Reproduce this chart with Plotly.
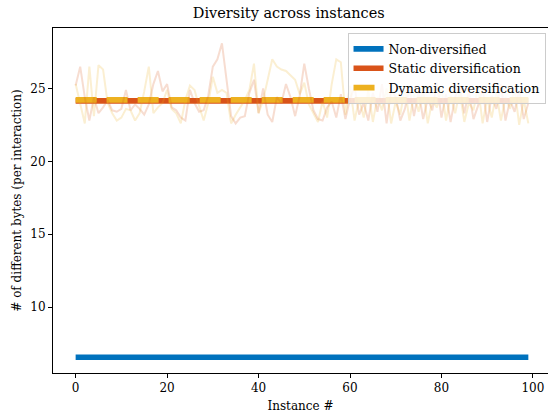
import plotly.graph_objects as go

instances = list(range(100))

non_diversified = [6.55] * 100

static_values = [
    25.2, 26.5, 24.4, 22.8, 24.4, 23.3, 23.7, 24.2, 23.5, 23.4,
    23.6, 24.9, 23.5, 23.9, 23.6, 23.2, 23.9, 25.3, 26.2, 24.8,
    25.3, 23.7, 23.5, 23.0, 22.8, 24.9, 24.0, 23.4, 23.5, 24.5,
    26.5, 27.0, 28.1, 25.6, 23.1, 22.6, 23.0, 23.1, 24.7, 25.6,
    23.3, 25.0, 23.2, 22.7, 24.4, 24.0, 25.3, 24.4, 23.1, 24.5,
    26.7, 25.0, 23.5, 22.9, 22.8, 23.7, 24.1, 23.0, 24.6, 22.9,
    24.3, 25.1, 23.2, 24.0, 22.8, 24.7, 23.4, 25.3, 22.6, 24.9,
    24.4, 22.8, 23.6, 25.0, 23.1, 24.8, 22.9, 24.3, 23.5, 25.4,
    23.0, 24.6, 22.7, 24.4, 25.2, 23.3, 24.8, 22.9, 23.8, 25.0,
    22.7, 24.5, 23.6, 25.3, 22.8, 24.2, 23.4, 24.9, 22.9, 24.0,
]

dynamic_values = [
    25.3, 24.0, 22.6, 26.5, 23.1, 26.6, 26.3, 24.0, 23.3, 22.8,
    23.0, 23.6, 23.5, 22.8, 23.3, 24.8, 26.5, 23.3, 23.7, 24.0,
    24.9, 23.6, 23.3, 22.6, 24.2, 25.2, 24.9, 23.8, 22.8, 24.0,
    25.8, 24.7, 24.9, 24.7, 22.6, 23.2, 23.7, 24.2, 24.9, 26.7,
    23.3, 24.2, 25.6, 27.0, 26.5, 26.3, 26.2, 25.9, 25.6, 24.6,
    25.4, 23.9, 23.3, 22.7, 24.1, 23.0, 25.3, 27.0, 26.8, 23.2,
    25.2, 22.8, 24.3, 23.0, 24.9, 22.7, 24.4, 23.5, 25.0, 22.6,
    24.1, 23.2, 25.1, 22.8, 24.6, 23.4, 24.9, 22.6, 24.2, 23.7,
    25.0, 22.8, 24.5, 23.3, 24.8, 22.7, 24.0, 23.5, 25.1, 22.6,
    24.3, 23.0, 24.7, 22.8, 24.4, 23.6, 25.0, 22.5, 24.2, 22.6,
]

static_mean = 24.15
dynamic_mean = 24.22

BLUE = "#0072BD"
RED = "#D95319"
YELLOW = "#EDB120"
FONT = "DejaVu Serif"

fig = go.Figure()

fig.add_trace(go.Scatter(
    x=instances, y=non_diversified, mode="lines", name="Non-diversified",
    line=dict(color=BLUE, width=5.6), showlegend=True))
fig.add_trace(go.Scatter(
    x=instances, y=[static_mean] * len(instances), mode="lines",
    name="Static diversification",
    line=dict(color=RED, width=5.6), showlegend=True))
fig.add_trace(go.Scatter(
    x=instances, y=[dynamic_mean] * len(instances), mode="lines",
    name="Dynamic diversification",
    line=dict(color=YELLOW, width=5.6, dash="21px,10px"), showlegend=True))
fig.add_trace(go.Scatter(
    x=instances, y=static_values, mode="lines",
    line=dict(color="rgba(217,83,25,0.2)", width=2), showlegend=False,
    hoverinfo="skip"))
fig.add_trace(go.Scatter(
    x=instances, y=dynamic_values, mode="lines",
    line=dict(color="rgba(237,177,32,0.2)", width=2), showlegend=False,
    hoverinfo="skip"))

fig.update_layout(
    width=548, height=414,
    margin=dict(l=53, r=0, t=28, b=41, autoexpand=False),
    paper_bgcolor="white", plot_bgcolor="white",
    font=dict(family=FONT, size=12, color="black"),
    title=dict(text="Diversity across instances", x=0.527, xanchor="center",
               y=0.968, yanchor="middle", font=dict(size=14.5, family=FONT)),
    xaxis=dict(range=[-4.95, 103.3], showgrid=False, zeroline=False,
               automargin=False,
               showline=True, linecolor="black", linewidth=1, mirror=True,
               ticks="outside", ticklen=4, tickcolor="black",
               tickvals=[0, 20, 40, 60, 80, 100],
               title=dict(text="Instance #", standoff=7, font=dict(size=12))),
    yaxis=dict(range=[5.47, 29.15], showgrid=False, zeroline=False,
               automargin=False,
               showline=True, linecolor="black", linewidth=1, mirror=False,
               ticks="outside", ticklen=4, tickcolor="black",
               tickvals=[10, 15, 20, 25],
               title=dict(text="# of different bytes (per interaction)",
                          standoff=6, font=dict(size=12))),
    legend=dict(x=0.995, y=0.985, xanchor="right", yanchor="top",
                bgcolor="rgba(255,255,255,0.8)", bordercolor="#cccccc",
                borderwidth=1, font=dict(size=12.6, family=FONT),
                tracegroupgap=0, itemwidth=30),
    showlegend=True,
)

fig.write_html("out.html",
               config={"displayModeBar": False},
               post_script="document.body.style.margin='0px';"
                           "document.body.style.overflow='hidden';")
